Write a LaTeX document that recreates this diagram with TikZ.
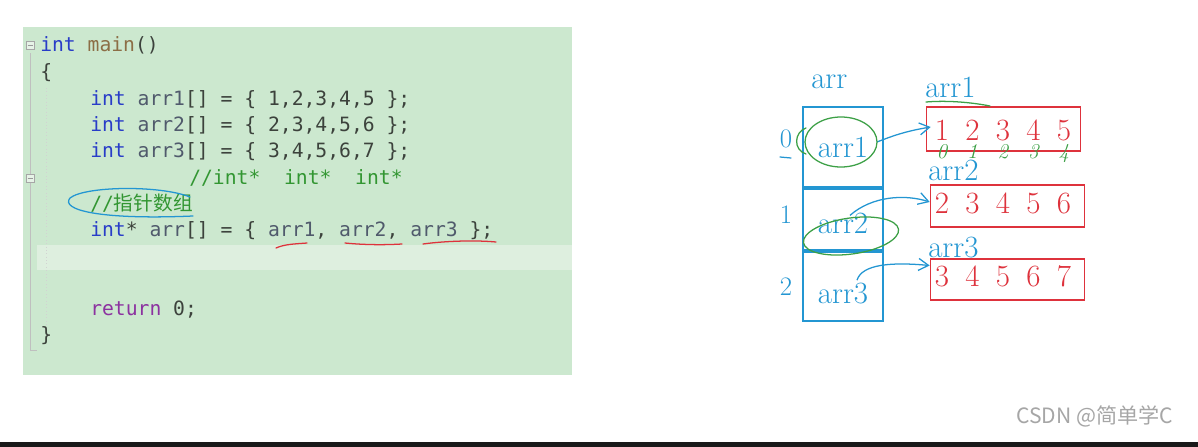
\documentclass[tikz,border=0pt]{standalone}
\usepackage{fontspec}
\usetikzlibrary{arrows.meta,calc}

\newfontfamily\codefont{DejaVu Sans Mono}
\newfontfamily\cjkfont{Noto Sans CJK SC}

\definecolor{codebg}{RGB}{204,232,207}
\definecolor{curline}{RGB}{222,239,223}
\definecolor{kwblue}{RGB}{40,60,200}
\definecolor{idgray}{RGB}{80,90,108}
\definecolor{punct}{RGB}{60,66,60}
\definecolor{fnbrown}{RGB}{140,110,70}
\definecolor{cmtgreen}{RGB}{50,150,50}
\definecolor{retpurple}{RGB}{140,50,160}
\definecolor{penblue}{RGB}{35,150,210}
\definecolor{penred}{RGB}{222,50,60}
\definecolor{pengreen}{RGB}{60,160,70}

\newcommand{\kw}[1]{\textcolor{kwblue}{#1}}
\newcommand{\idf}[1]{\textcolor{idgray}{#1}}

\begin{document}
\begin{tikzpicture}[
  x=0.025cm, y=-0.025cm,
  codeline/.style = {anchor=base west, inner sep=0pt, text=punct,
                     font=\codefont\fontsize{14}{16}\selectfont},
  pen/.style      = {inner sep=0pt, font=\fontsize{22}{24}\selectfont},
  cellbox/.style  = {draw=penblue, line width=1.3pt, minimum width=2cm, inner sep=0pt},
  numbox/.style   = {draw=penred, line width=1.1pt, minimum width=3.85cm, inner sep=0pt},
  ptr/.style      = {penblue, line width=0.9pt,
                     -{Straight Barb[length=2.5mm, width=3mm]}},
  hand/.style     = {line width=0.9pt, line cap=round},
]

\useasboundingbox (0,0) rectangle (1198,447);
\fill[white] (0,0) rectangle (1198,447);

% ── Code panel ────────────────────────────────────────────────────────────
\fill[codebg] (23,27) rectangle (572,375);
\fill[curline] (37,245) rectangle (572,270);

% gutter with fold marks
\draw[gray!50, line width=0.6pt] (30,53) -- (30,350) -- (37,350);
\foreach \y in {45,178} {
  \filldraw[fill=codebg!50!white, draw=gray!70] (26,\y-4) rectangle (34,\y+4);
  \draw[gray!80] (27.5,\y) -- (32.5,\y);
}
\draw[gray!35, dotted] (46,88) -- (46,330);

% source lines
\node[codeline] (ln1) at (40,52) {\kw{int} \textcolor{fnbrown}{main}()};
\node[codeline] (ln2) at (40,78) {\{};
\node[codeline] (ln3) at (90,105) {\kw{int} \idf{arr1}[] = \{ 1,2,3,4,5 \};};
\node[codeline] (ln4) at (90,131) {\kw{int} \idf{arr2}[] = \{ 2,3,4,5,6 \};};
\node[codeline] (ln5) at (90,157) {\kw{int} \idf{arr3}[] = \{ 3,4,5,6,7 \};};
\node[codeline, text=cmtgreen] (ln6) at (189,184) {//int*~~int*~~int*};
\node[codeline, text=cmtgreen] (ln7) at (90,210) {//{\cjkfont 指针数组}};
\node[codeline] (ln8) at (90,236)
  {\kw{int}* \idf{arr}[] = \{ \idf{arr1}, \idf{arr2}, \idf{arr3} \};};
\node[codeline] (ln11) at (90,315) {\textcolor{retpurple}{return} 0;};
\node[codeline] (ln12) at (40,341) {\}};

% pen marks on the code
\draw[hand, penblue] (190,197) .. controls (160,185) and (85,186) .. (70,198)
  .. controls (60,210) and (100,220) .. (193,216);
\draw[hand, penred] (276,248) .. controls (285,244) and (295,244) .. (307,243);
\draw[hand, penred] (345,243) .. controls (365,245) and (385,245) .. (402,244);
\draw[hand, penred] (423,244) .. controls (445,241) and (475,240) .. (496,242);

% ── Pointer array arr ─────────────────────────────────────────────────────
\node[pen, text=penblue, anchor=base west] (arrname) at (811,88) {arr};

\node[cellbox, minimum height=2cm] (cell0) at (843,147) {};
\node[cellbox, minimum height=1.525cm, anchor=north] (cell1) at (cell0.south) {};
\node[cellbox, minimum height=1.725cm, anchor=north] (cell2) at (cell1.south) {};

\node[pen, text=penblue, anchor=base] (ptr0) at (843,157) {arr1};
\node[pen, text=penblue, anchor=base] (ptr1) at (843,233) {arr2};
\node[pen, text=penblue, anchor=base] (ptr2) at (843,303) {arr3};

\foreach \i/\y in {0/147, 1/223, 2/295} {
  \node[pen, text=penblue, anchor=base, font=\fontsize{19}{21}\selectfont]
    (idx\i) at (786,\y) {\i};
}
\draw[hand, penblue] (780,157) -- (791,158);

% ── Integer arrays ────────────────────────────────────────────────────────
\node[numbox, minimum height=1.1cm]   (box1) at (1003.5,129) {};
\node[numbox, minimum height=1.05cm]  (box2) at (1007.5,206) {};
\node[numbox, minimum height=1.025cm] (box3) at (1007.5,279.5) {};

\node[pen, text=penblue, anchor=base west] (lab1) at (925,97) {arr1};
\node[pen, text=penblue, anchor=base west] (lab2) at (928,180) {arr2};
\node[pen, text=penblue, anchor=base west] (lab3) at (928,257) {arr3};

\foreach \d [count=\i from 0] in {1,2,3,4,5} {
  \node[pen, text=penred, anchor=base] (da\i) at ({942+30.5*\i},140) {\d};
}
\foreach \d [count=\i from 0] in {2,3,4,5,6} {
  \node[pen, text=penred, anchor=base] (db\i) at ({942+30.5*\i},213) {\d};
}
\foreach \d [count=\i from 0] in {3,4,5,6,7} {
  \node[pen, text=penred, anchor=base] (dc\i) at ({942+30.5*\i},286) {\d};
}

% ── Pointers ──────────────────────────────────────────────────────────────
\draw[ptr] ($(cell0.center)+(34,-5)$) to[bend left=6] ($(box1.west)+(5,-2)$);
\draw[ptr] ($(cell1.center)+(7,-4)$) .. controls (872,196) and (905,194)
  .. ($(box2.west)+(0,-4)$);
\draw[ptr] ($(cell2.center)+(14,-6)$) .. controls (862,264) and (892,262)
  .. ($(box3.west)+(0,-14)$);

% ── Green pen notes ───────────────────────────────────────────────────────
\draw[hand, pengreen] (841,142) ellipse [x radius=36, y radius=25];
\draw[hand, pengreen] (806,128) .. controls (794,132) and (793,150) .. (806,154);
\draw[hand, pengreen, rotate around={8:(851,236)}]
  (851,236) ellipse [x radius=48, y radius=18];
\draw[hand, pengreen] (926,102) .. controls (950,100) and (975,103) .. (990,106);
\foreach \g [count=\i from 0] in {0,1,2,3,4} {
  \node[text=pengreen, inner sep=0pt, anchor=base,
        font=\fontsize{15}{17}\selectfont\itshape]
    (ix\i) at ({942+30.5*\i},158) {\g};
}

% ── Watermark and bottom edge ─────────────────────────────────────────────
\node[font=\cjkfont\fontsize{15}{17}\selectfont, text=black!35, anchor=base east]
  (mark) at (1178,423) {CSDN @简单学C};
\fill[black!90] (0,442) rectangle (1198,447);

\end{tikzpicture}
\end{document}
